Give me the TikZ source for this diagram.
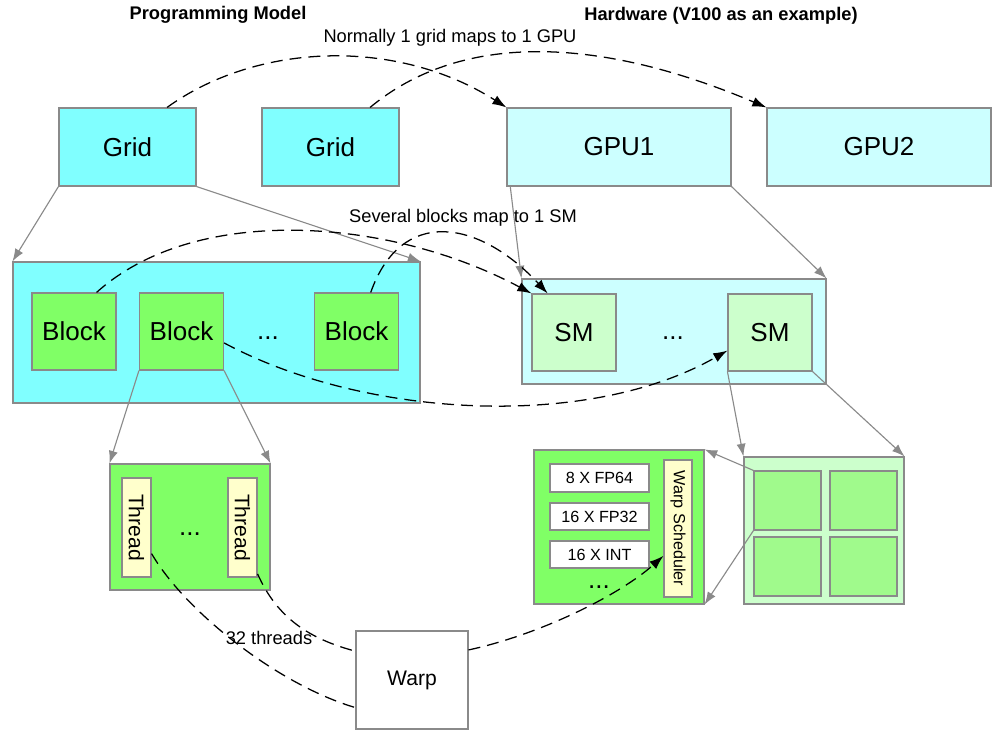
\documentclass[tikz,border=0pt]{standalone}
\usepackage{fontspec}
\setmainfont{Liberation Sans}
\usetikzlibrary{arrows.meta}
\definecolor{linegray}{HTML}{8A8A8A}
\definecolor{gridcyan}{HTML}{80FFFF}
\definecolor{gpucyan}{HTML}{CCFFFF}
\definecolor{blockgreen}{HTML}{80FF66}
\definecolor{smgreen}{HTML}{CCFFCC}
\definecolor{subgreen}{HTML}{A0FA8C}
\definecolor{threadyellow}{HTML}{FFFFCC}

\begin{document}
\begin{tikzpicture}[x=0.025cm, y=-0.025cm,
  wh/.style 2 args={minimum width=#1*0.025cm, minimum height=#2*0.025cm},
  box/.style={draw=linegray, line width=0.8pt, inner sep=0pt},
  big/.style={font=\fontsize{18.5}{22}\selectfont},
  mid/.style={font=\fontsize{15}{18}\selectfont},
  small/.style={font=\fontsize{11.5}{14}\selectfont},
  lbl/.style={font=\fontsize{13}{16}\selectfont},
  gline/.style={draw=linegray, line width=0.8pt, -{Latex[length=9pt,width=6.5pt]}},
  dline/.style={line width=0.9pt, dash pattern=on 8.5pt off 5pt, -{Latex[length=10pt,width=7pt]}}]
\useasboundingbox (0,0) rectangle (1001,737);
% programming model
\node[box, fill=gridcyan, wh={137}{78}, big] (grid1) at (127.5,147) {Grid};
\node[box, fill=gridcyan, wh={137}{78}, big] (grid2) at (330.5,147) {Grid};
\node[box, fill=gridcyan, wh={407}{141}] (blockc) at (216.5,332.5) {};
\node[box, fill=blockgreen, wh={84}{77}, big] (block1) at (74,331.5) {Block};
\node[box, fill=blockgreen, wh={84}{77}, big] (block2) at (181.5,331.5) {Block};
\node[box, fill=blockgreen, wh={84}{77}, big] (block3) at (356.5,331.5) {Block};
\node[big] (bdots) at (268,338) {...};
\node[box, fill=blockgreen, wh={160}{126}] (threadc) at (190,527) {};
\node[box, fill=threadyellow, wh={29}{99}, mid] (thread1) at (136.5,527.5) {\rotatebox{-90}{Thread}};
\node[box, fill=threadyellow, wh={29}{99}, mid] (thread2) at (242.5,527.5) {\rotatebox{-90}{Thread}};
\node[big] (tdots) at (190,534) {...};
\node[box, fill=white, wh={112}{98}, mid] (warp) at (412,680) {Warp};
% hardware
\node[box, fill=gpucyan, wh={224}{78}, big] (gpu1) at (619,147) {GPU1};
\node[box, fill=gpucyan, wh={224}{78}, big] (gpu2) at (879,147) {GPU2};
\node[box, fill=gpucyan, wh={304}{105}] (smc) at (674,331.5) {};
\node[box, fill=smgreen, wh={84}{77}, big] (sm1) at (574,332.5) {SM};
\node[box, fill=smgreen, wh={84}{77}, big] (sm2) at (770,332.5) {SM};
\node[big] (sdots) at (673,338) {...};
\node[box, fill=blockgreen, wh={170}{154}] (sdet) at (619,527) {};
\node[box, fill=white, wh={99}{28}, small] (fp64) at (599.5,478) {8 X FP64};
\node[box, fill=white, wh={99}{27}, small] (fp32) at (599.5,516.5) {16 X FP32};
\node[box, fill=white, wh={99}{27}, small] (int) at (599.5,554.5) {16 X INT};
\node[big] (udots) at (599,587) {...};
\node[box, fill=threadyellow, wh={28}{137}, small] (wsched) at (678,528.5) {\rotatebox{-90}{Warp Scheduler}};
\node[box, fill=smgreen, wh={160}{147}] (rbox) at (824,530.5) {};
\node[box, fill=subgreen, wh={67}{59}] (sq1) at (787.5,500.5) {};
\node[box, fill=subgreen, wh={67}{59}] (sq2) at (863.5,500.5) {};
\node[box, fill=subgreen, wh={67}{59}] (sq3) at (787.5,566.5) {};
\node[box, fill=subgreen, wh={67}{59}] (sq4) at (863.5,566.5) {};
% labels
\node[lbl, font=\fontsize{13}{16}\selectfont\bfseries] (pmtitle) at (218,15) {Programming Model};
\node[lbl, font=\fontsize{13}{16}\selectfont\bfseries] (hwtitle) at (721,16) {Hardware (V100 as an example)};
\node[lbl] (gridnote) at (450,38) {Normally 1 grid maps to 1 GPU};
\node[lbl] (blocknote) at (463,218) {Several blocks map to 1 SM};
\node[lbl] (warpnote) at (269,638) {32 threads};
% containment
\draw[gline] (grid1.south west) -- (blockc.north west);
\draw[gline] (grid1.south east) -- (blockc.north east);
\draw[gline] (gpu1.200) -- (smc.north west);
\draw[gline] (gpu1.south east) -- (smc.north east);
\draw[gline] (block2.south west) -- (threadc.north west);
\draw[gline] (block2.south east) -- (threadc.north east);
\draw[gline] (sm2.south west) -- (rbox.north west);
\draw[gline] (sm2.south east) -- (rbox.north east);
\draw[gline] (sq1.north west) -- (sdet.north east);
\draw[gline] (sq1.south west) -- (sdet.south east);
% mappings
\draw[dline] (grid1.45) .. controls +(90,-65) and +(-110,-70) .. (gpu1.north west);
\draw[dline] (grid2.45) .. controls +(90,-75) and +(-170,-72) .. (gpu2.north west);
\draw[dline] (block1.60) .. controls +(100,-90) and +(-140,-75) .. (sm1.north west);
\draw[dline] (block3.70) .. controls +(30,-85) and +(-70,-75) .. (sm1.124);
\draw[dline] (block2.-15) .. controls +(140,75) and +(-140,80) .. (sm2.203);
\draw[dline, -] (thread1.-60) .. controls +(35,60) and +(-75,-22) .. (warp.206);
\draw[dline, -] (thread2.-72) .. controls +(20,45) and +(-45,-12) .. (warp.153);
\draw[dline] (warp.28) .. controls +(70,-15) and +(-45,40) .. (wsched.242);
\end{tikzpicture}
\end{document}
